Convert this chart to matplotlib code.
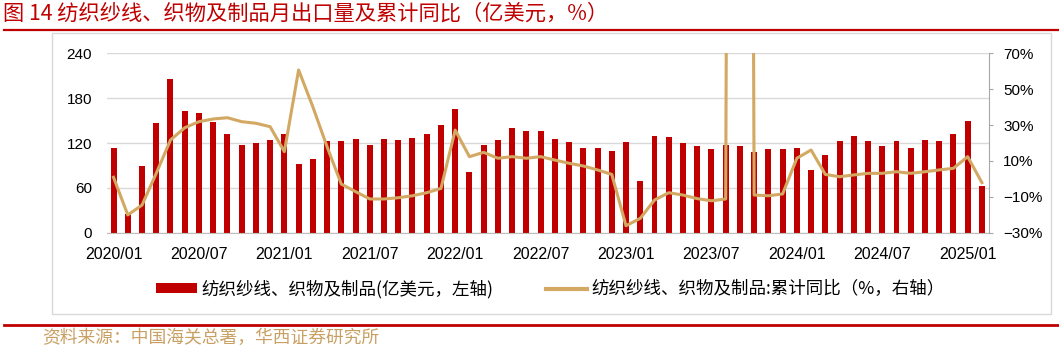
import matplotlib
matplotlib.use("Agg")
import matplotlib.pyplot as plt
from matplotlib.lines import Line2D
from matplotlib.patches import Rectangle, Patch
from matplotlib.ticker import FuncFormatter

# ---------------------------------------------------------------------------
# Datos: 2020/01 – 2025/02, exportación mensual (亿美元) y acumulado YoY (%)
# ---------------------------------------------------------------------------
meses = [f"{a}/{m:02d}" for a in range(2020, 2026) for m in range(1, 13)][:62]

exportacion = [
    113.8, 24.9, 89.8, 146.3, 205.8, 162.3, 160.0, 148.5, 132.0, 117.8, 120.0, 124.0,
    132.0, 92.0, 98.3, 122.3, 122.3, 125.8, 117.8, 125.8, 124.0, 126.3, 132.0, 144.0,
    165.8, 81.8, 117.8, 124.0, 140.0, 136.0, 136.0, 125.8, 121.8, 113.8, 113.8, 109.8,
    121.8, 69.8, 129.8, 128.0, 120.0, 115.6, 112.0, 117.8, 115.6, 108.0, 112.0, 112.0,
    113.8, 84.0, 104.0, 122.3, 129.8, 122.3, 116.0, 122.3, 113.8, 124.5, 122.3, 131.6,
    149.8, 62.3,
]

# 2023/09 sale muy por encima del eje (valor fuera de escala)
yoy_acum = [
    0.9, -20.1, -14.6, 3.1, 21.7, 28.5, 31.9, 33.4, 34.1, 31.9, 31.0, 29.1,
    15.2, 60.7, 40.2, 17.9, -2.9, -7.1, -11.2, -11.2, -10.5, -9.4, -7.7, -5.3,
    27.2, 12.4, 14.8, 11.5, 12.4, 11.5, 12.4, 10.5, 8.7, 7.2, 5.0, 2.5,
    -26.1, -22.0, -11.8, -7.7, -9.0, -11.0, -12.2, -11.2, 2000.0, -9.0, -9.4, -8.4,
    11.5, 16.1, 2.5, 1.2, 2.2, 3.1, 3.1, 4.0, 3.1, 4.0, 5.0, 5.9,
    12.4, -2.1,
]

ticks_izq = [0, 60, 120, 180, 240]
ticks_der = [-30, -10, 10, 30, 50, 70]
pos_fechas = list(range(0, 62, 6))
etiquetas_fechas = [meses[i] for i in pos_fechas]

titulo = "图 14 纺织纱线、织物及制品月出口量及累计同比（亿美元，%）"
leyenda_barras = "纺织纱线、织物及制品(亿美元，左轴)"
leyenda_linea = "纺织纱线、织物及制品:累计同比（%，右轴）"
fuente = "资料来源：中国海关总署，华西证券研究所"

ROJO = "#C00000"
ORO = "#D2A862"
CJK = ["Noto Sans CJK SC", "DejaVu Sans"]

plt.rcParams["font.family"] = ["Liberation Sans", "DejaVu Sans"]

fig = plt.figure(figsize=(10.59, 3.51), dpi=100)
ax = fig.add_axes([0.1013, 0.3370, 0.8329, 0.5111])

x = list(range(len(meses)))
ax.bar(x, exportacion, width=0.42, color=ROJO, zorder=2)
ax.set_xlim(-0.44, 61.52)
ax.set_ylim(0, 240)
ax.set_yticks(ticks_izq)
ax.grid(axis="y", color="#D9D9D9", linewidth=1.0, zorder=0)
ax.set_xticks(pos_fechas)
ax.set_xticklabels(etiquetas_fechas)
ax.tick_params(axis="x", length=0, pad=10, labelsize=11.5)
ax.tick_params(axis="y", length=0, pad=11, labelsize=11)
for lado in ("top", "left", "right"):
    ax.spines[lado].set_visible(False)
ax.spines["bottom"].set_color("#BFBFBF")

ax2 = ax.twinx()
ax2.plot(x, yoy_acum, color=ORO, linewidth=2.2, zorder=3)
ax2.set_ylim(-30, 70)
ax2.set_yticks(ticks_der)
ax2.yaxis.set_major_formatter(FuncFormatter(lambda v, _: f"{v:.0f}%".replace("-", "\u2212")))
ax2.tick_params(axis="y", direction="out", length=3, color="#A6A6A6", pad=7, labelsize=11)
for lado in ("top", "left", "bottom"):
    ax2.spines[lado].set_visible(False)
ax2.spines["right"].set_color("#A6A6A6")

# Leyenda
handles = [Patch(facecolor=ROJO, edgecolor="none"),
           Line2D([], [], color=ORO, linewidth=3)]
fig.legend(handles, [leyenda_barras, leyenda_linea], loc="center",
           bbox_to_anchor=(0.52, 0.177), ncol=2, frameon=False,
           prop={"family": CJK, "size": 12.6}, handlelength=2.3, handleheight=0.5,
           handletextpad=0.3, columnspacing=3.0)

# Marco, título y fuente
fig.add_artist(Rectangle((52 / 1059, 1 - 314 / 351), 999 / 1059, 281 / 351,
                         transform=fig.transFigure, fill=False,
                         edgecolor="#D9D9D9", linewidth=1.0))
fig.text(0.003, 1 - 14 / 351, titulo, color=ROJO, fontsize=15.3, va="center",
         family=CJK)
fig.add_artist(Line2D([0.004, 1.0], [1 - 29.5 / 351] * 2, transform=fig.transFigure,
                      color=ROJO, linewidth=1.6))
fig.add_artist(Line2D([0.004, 1.0], [1 - 325 / 351] * 2, transform=fig.transFigure,
                      color=ROJO, linewidth=2.0))
fig.text(0.040, 1 - 338 / 351, fuente, color="#C9A063", fontsize=12.8, va="center",
         family=CJK)

fig.savefig("out.png", dpi=100)
